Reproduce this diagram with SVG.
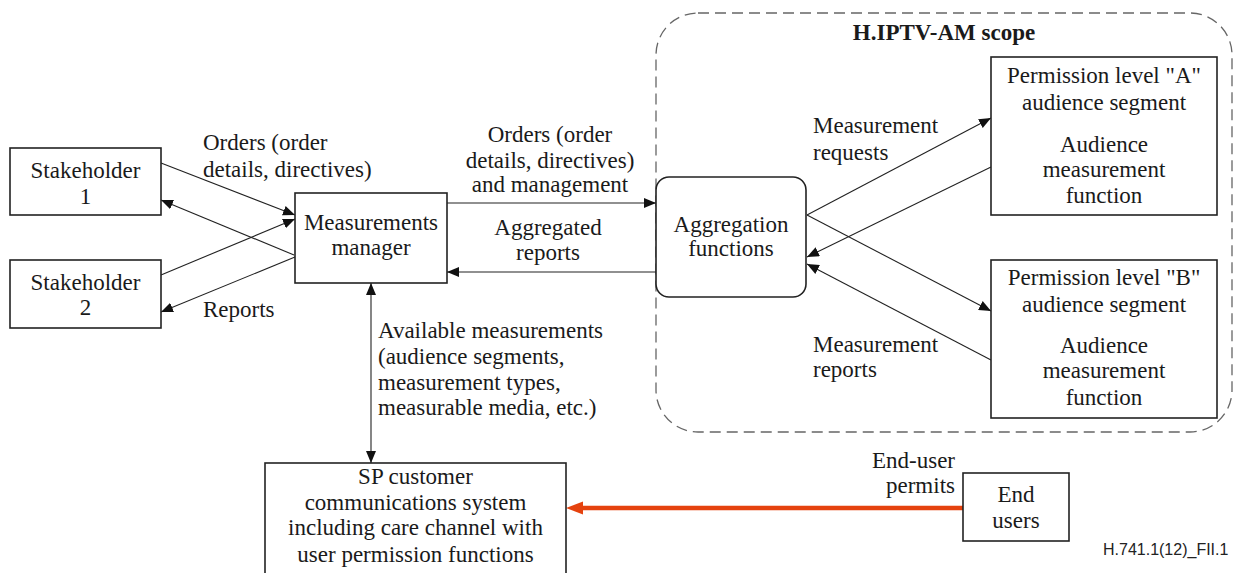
<svg xmlns="http://www.w3.org/2000/svg" width="1234" height="573" viewBox="0 0 1234 573">
  <style>
    .box { fill: #ffffff; stroke: #222222; stroke-width: 1.6; }
    text { font-family: 'Liberation Serif', 'DejaVu Serif', serif; font-size: 23px; fill: #1a1a1a; }
    .c { text-anchor: middle; }
    .e { text-anchor: end; }
    .b { font-weight: bold; }
    .ln { stroke: #222222; stroke-width: 1.1; fill: none; marker-end: url(#arr); }
    .scope { fill: none; stroke: #666666; stroke-width: 1.3; stroke-dasharray: 11 6; }
    text.code { font-family: 'Liberation Sans', Arial, sans-serif; font-size: 16px; fill: #222222; }
  </style>
  <defs>
    <marker id="arr" viewBox="0 0 12 10" refX="12" refY="5" markerWidth="12" markerHeight="10" markerUnits="userSpaceOnUse" orient="auto-start-reverse">
      <path d="M0,0 L12,5 L0,10 z" fill="#111111"/>
    </marker>
  </defs>

  <rect width="1234" height="573" fill="#ffffff"/>

  <!-- scope boundary -->
  <g id="scope">
    <rect class="scope" x="656" y="13" width="576" height="419" rx="42" ry="42"/>
    <text class="c b" x="944" y="40">H.IPTV-AM scope</text>
  </g>

  <!-- connectors -->
  <g id="connectors">
    <line class="ln" x1="161" y1="163" x2="295" y2="215"/>
    <line class="ln" x1="294" y1="255" x2="161" y2="200"/>
    <line class="ln" x1="161" y1="275" x2="295" y2="219"/>
    <line class="ln" x1="295" y1="257" x2="161" y2="312"/>
    <line class="ln" x1="447" y1="203" x2="656" y2="203"/>
    <line class="ln" x1="656" y1="272" x2="447" y2="272"/>
    <line class="ln" x1="807" y1="215" x2="991" y2="118"/>
    <line class="ln" x1="991" y1="167" x2="807" y2="257"/>
    <line class="ln" x1="807" y1="215" x2="991" y2="311"/>
    <line class="ln" x1="991" y1="360" x2="807" y2="264"/>
    <line class="ln" x1="371" y1="283" x2="371" y2="463" marker-start="url(#arr)"/>
    <line x1="963" y1="508" x2="580" y2="508" stroke="#e5420e" stroke-width="4.5"/>
    <polygon points="566,508 583,501.5 583,514.5" fill="#e5420e"/>

    <text x="203" y="150">Orders (order</text>
    <text x="203" y="177">details, directives)</text>
    <text x="203" y="317">Reports</text>
    <text class="c" x="550" y="142">Orders (order</text>
    <text class="c" x="550" y="168">details, directives)</text>
    <text class="c" x="550" y="192">and management</text>
    <text class="c" x="548" y="235">Aggregated</text>
    <text class="c" x="548" y="260">reports</text>
    <text x="813" y="133">Measurement</text>
    <text x="813" y="160">requests</text>
    <text x="813" y="352">Measurement</text>
    <text x="813" y="377">reports</text>
    <text x="378" y="338">Available measurements</text>
    <text x="378" y="364">(audience segments,</text>
    <text x="378" y="390">measurement types,</text>
    <text x="378" y="415">measurable media, etc.)</text>
    <text class="e" x="955" y="468">End-user</text>
    <text class="e" x="955" y="493">permits</text>
  </g>

  <g id="stakeholder1">
    <rect class="box" x="10" y="148" width="151" height="67"/>
    <text class="c" x="85.5" y="178">Stakeholder</text>
    <text class="c" x="85.5" y="204">1</text>
  </g>
  <g id="stakeholder2">
    <rect class="box" x="10" y="260" width="151" height="68"/>
    <text class="c" x="85.5" y="290">Stakeholder</text>
    <text class="c" x="85.5" y="315">2</text>
  </g>
  <g id="measurements-manager">
    <rect class="box" x="295" y="193" width="152" height="90"/>
    <text class="c" x="371" y="230">Measurements</text>
    <text class="c" x="371" y="255">manager</text>
  </g>
  <g id="aggregation">
    <rect class="box" x="656" y="177" width="150" height="120" rx="13" ry="13"/>
    <text class="c" x="731" y="232">Aggregation</text>
    <text class="c" x="731" y="256">functions</text>
  </g>
  <g id="permission-a">
    <rect class="box" x="991" y="57" width="226" height="158"/>
    <text class="c" x="1104" y="83">Permission level "A"</text>
    <text class="c" x="1104" y="110">audience segment</text>
    <text class="c" x="1104" y="152">Audience</text>
    <text class="c" x="1104" y="177">measurement</text>
    <text class="c" x="1104" y="203">function</text>
  </g>
  <g id="permission-b">
    <rect class="box" x="991" y="260" width="226" height="158"/>
    <text class="c" x="1104" y="285">Permission level "B"</text>
    <text class="c" x="1104" y="312">audience segment</text>
    <text class="c" x="1104" y="353">Audience</text>
    <text class="c" x="1104" y="378">measurement</text>
    <text class="c" x="1104" y="405">function</text>
  </g>
  <g id="sp-system">
    <rect class="box" x="265" y="463" width="301" height="125"/>
    <text class="c" x="415.5" y="484">SP customer</text>
    <text class="c" x="415.5" y="510">communications system</text>
    <text class="c" x="415.5" y="535">including care channel with</text>
    <text class="c" x="415.5" y="562">user permission functions</text>
  </g>
  <g id="end-users">
    <rect class="box" x="963" y="473" width="106" height="68"/>
    <text class="c" x="1016" y="502">End</text>
    <text class="c" x="1016" y="528">users</text>
  </g>

  <text class="code" x="1103" y="555">H.741.1(12)_FII.1</text>
</svg>
